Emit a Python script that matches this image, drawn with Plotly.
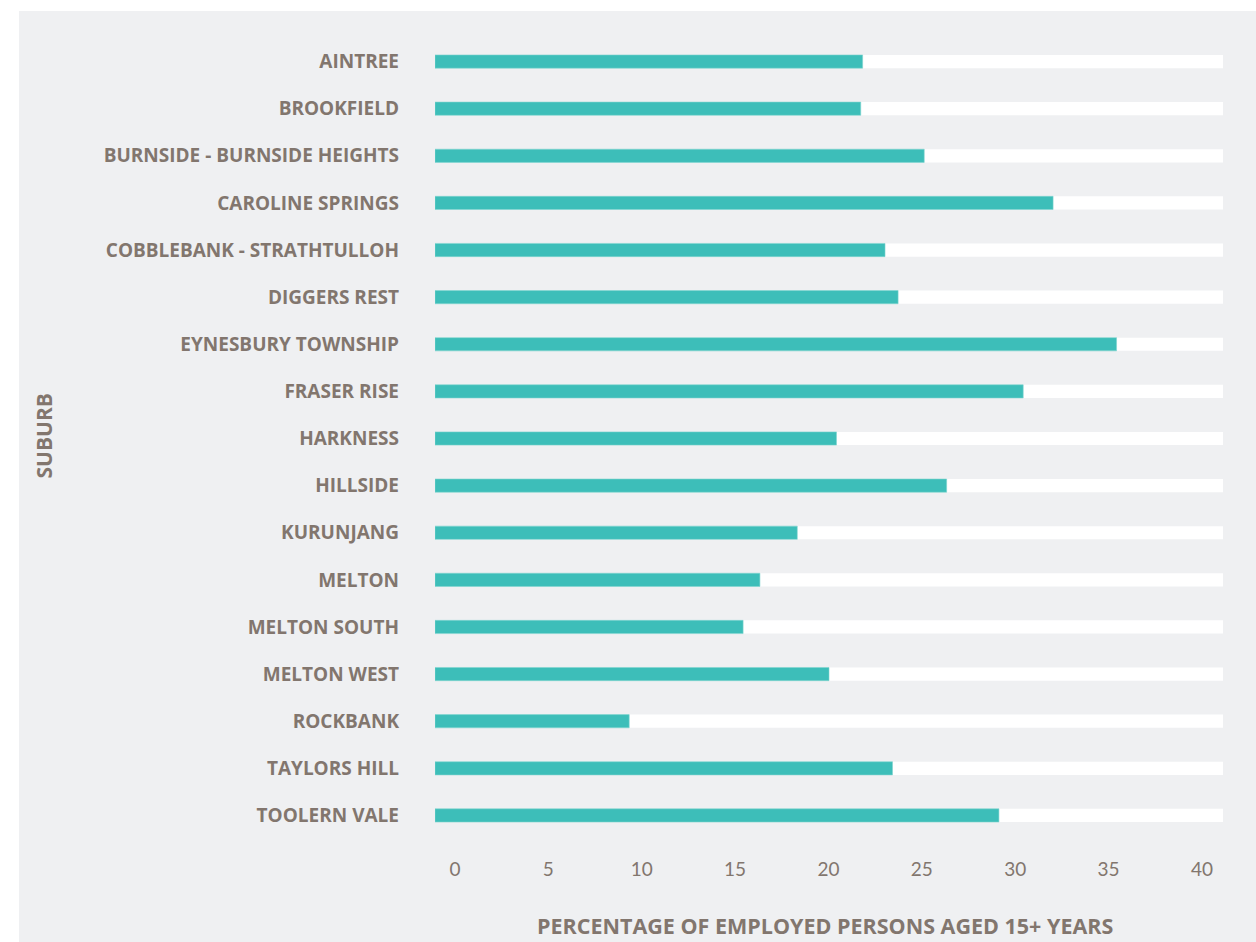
import plotly.graph_objects as go

suburbs = [
    "AINTREE", "BROOKFIELD", "BURNSIDE - BURNSIDE HEIGHTS", "CAROLINE SPRINGS",
    "COBBLEBANK - STRATHTULLOH", "DIGGERS REST", "EYNESBURY TOWNSHIP", "FRASER RISE",
    "HARKNESS", "HILLSIDE", "KURUNJANG", "MELTON", "MELTON SOUTH", "MELTON WEST",
    "ROCKBANK", "TAYLORS HILL", "TOOLERN VALE",
]
values = [22.9, 22.8, 26.2, 33.1, 24.1, 24.8, 36.5, 31.5, 21.5, 27.4,
          19.4, 17.4, 16.5, 21.1, 10.4, 24.5, 30.2]
tick_vals = [0, 5, 10, 15, 20, 25, 30, 35, 40]
axis_max = 42.2
track = [axis_max] * len(suburbs)

TEAL = "#3dbeb9"
TEXT = "#82766e"
BG = "#eff0f2"
BOLD_FONT = "Open Sans"
NUM_FONT = "Lato"

L, R, T, B = 435, 33, 38, 103
PW = 1256 - L - R
PH = 942 - T - B

fig = go.Figure()
fig.add_trace(go.Bar(
    y=suburbs, x=track, orientation="h", marker=dict(color="white", line=dict(width=0)),
    width=0.28, hoverinfo="skip", showlegend=False,
))
fig.add_trace(go.Bar(
    y=suburbs, x=values, orientation="h",
    marker=dict(color=TEAL, line=dict(color="#7dd3cf", width=0.6)),
    width=0.28, showlegend=False,
))

fig.update_layout(
    width=1256, height=942,
    barmode="overlay",
    paper_bgcolor="white", plot_bgcolor=BG,
    margin=dict(l=L, r=R, t=T, b=B),
    font=dict(family=BOLD_FONT, color=TEXT),
    shapes=[dict(type="rect", xref="paper", yref="paper",
                 x0=-(L - 19) / PW, x1=1.2, y0=-0.3, y1=1.0 + (T - 11) / PH,
                 fillcolor=BG, line=dict(width=0), layer="below")],
    annotations=[
        dict(text="<b>SUBURB</b>", xref="paper", yref="paper", x=-(L - 43) / PW, y=(PH - (436.5 - T)) / PH,
             textangle=-90, showarrow=False, font=dict(size=21, color=TEXT, family=BOLD_FONT),
             xanchor="center", yanchor="middle"),
        dict(text="<b>PERCENTAGE OF EMPLOYED PERSONS AGED 15+ YEARS</b>", xref="paper", yref="paper",
             x=(825 - L) / PW, y=-(925.5 - (T + PH)) / PH, showarrow=False,
             font=dict(size=21.5, color=TEXT, family=BOLD_FONT),
             xanchor="center", yanchor="middle"),
    ],
)
fig.update_xaxes(
    range=[0, axis_max], tickvals=tick_vals, showgrid=False, zeroline=False, showline=False,
    ticks="", tickfont=dict(size=19, color=TEXT, family=NUM_FONT),
    ticklabelshift=20, ticklabelstandoff=17, fixedrange=True,
)
fig.update_yaxes(
    autorange="reversed", showgrid=False, zeroline=False, showline=False, ticks="",
    tickfont=dict(size=19, color=TEXT, family=BOLD_FONT),
    ticklabelstandoff=35, tickprefix="<b>", ticksuffix="</b>", fixedrange=True,
)

fig.write_html("out.html", config={"displayModeBar": False},
               post_script="document.body.style.margin='0px';document.body.style.overflow='hidden';")
